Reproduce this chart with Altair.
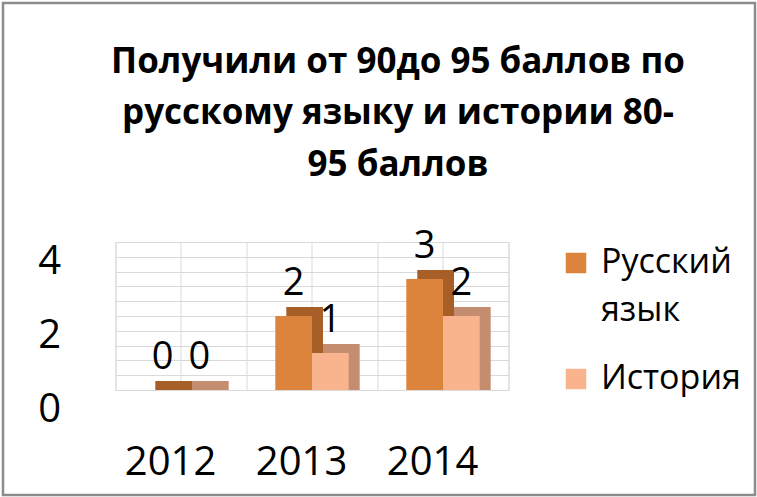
import altair as alt
import pandas as pd

# ---- data ----
years = ["2012", "2013", "2014"]
series = ["Русский язык", "История"]
russian = [0, 2, 3]
history = [0, 1, 2]
y_ticks = [0, 0.4, 0.8, 1.2, 1.6, 2, 2.4, 2.8, 3.2, 3.6, 4]
title_lines = ["Получили от 90до 95 баллов по", "русскому языку и истории 80-", "95 баллов"]

rows = []
for i, yr in enumerate(years):
    rows.append({"year": yr, "series": series[0], "value": russian[i]})
    rows.append({"year": yr, "series": series[1], "value": history[i]})
df = pd.DataFrame(rows)
years_df = pd.DataFrame({"year": years})

# ---- layout constants ----
W, H = 393, 148
PAD_L, PAD_T = 115.5, 242
DX, DY = 11, 9          # pseudo-3D depth offset
PX_PER_UNIT = H / 4.0
FONT = "Open Sans"
front_colors = ["#DD843C", "#F9B48E"]
side_colors = ["#A85E27", "#C58D70"]
grid_color = "#D9D9D9"

xoff_scale = dict(domain=series, paddingInner=0, paddingOuter=0.785)

# vertical center grid lines
rules = alt.Chart(years_df).mark_rule(color=grid_color, strokeWidth=1).encode(
    x=alt.X("year:N", sort=years, axis=None)
)

# back (depth) faces of bars
depth = alt.Chart(df).mark_bar().encode(
    x=alt.X("year:N", sort=years, axis=None,
            scale=alt.Scale(paddingInner=0, paddingOuter=0, range=[DX, W + DX])),
    xOffset=alt.XOffset("series:N", sort=series, scale=alt.Scale(**xoff_scale)),
    y=alt.Y("value:Q", axis=None, scale=alt.Scale(domain=[0, 4], range=[H - DY, -DY])),
    y2=alt.datum(-DY / PX_PER_UNIT),
    color=alt.Color("series:N", sort=series, legend=None,
                    scale=alt.Scale(domain=series, range=side_colors)),
)

x_front = alt.X(
    "year:N", sort=years,
    scale=alt.Scale(paddingInner=0, paddingOuter=0),
    axis=alt.Axis(title=None, labelAngle=0, labelFont=FONT, labelFontSize=40,
                  labelColor="black", tickBand="extent", grid=True, gridColor=grid_color,
                  domain=False, ticks=False, tickSize=0, labelPadding=52, labelOffset=-11),
)
xoff_front = alt.XOffset("series:N", sort=series, scale=alt.Scale(**xoff_scale))
y_front = alt.Y(
    "value:Q",
    scale=alt.Scale(domain=[0, 4]),
    axis=alt.Axis(title=None, values=y_ticks, tickCount=len(y_ticks), labelOverlap=False,
                  labelExpr="datum.value % 2 == 0 ? '' + datum.value : ''",
                  labelFont=FONT, labelFontSize=40, labelColor="black", labelBaseline="middle",
                  labelOffset=19, labelPadding=55, grid=True, gridColor=grid_color,
                  domain=False, ticks=False, tickSize=0),
)

bars = alt.Chart(df).mark_bar().encode(
    x=x_front,
    xOffset=xoff_front,
    y=y_front,
    color=alt.Color(
        "series:N", sort=series,
        scale=alt.Scale(domain=series, range=front_colors),
        legend=alt.Legend(
            title=None, orient="none", legendX=443.5, legendY=4,
            symbolType="square", symbolSize=420, symbolStrokeWidth=0,
            labelFont=FONT, labelFontSize=34, labelColor="black", labelOffset=8,
            labelBaseline="middle", labelLimit=300, rowPadding=34,
            labelExpr="datum.label == 'Русский язык' ? ['Русский', 'язык'] : datum.label",
        ),
    ),
)

labels = alt.Chart(df).mark_text(
    dy=-21, baseline="alphabetic", fontSize=38, font=FONT, color="black"
).encode(
    x=alt.X("year:N", sort=years),
    xOffset=alt.XOffset("series:N", sort=series),
    y=alt.Y("value:Q"),
    text=alt.Text("value:Q"),
)

front = alt.layer(bars, labels)

frame = alt.Chart(pd.DataFrame({"a": [0]})).mark_rect(
    fillOpacity=0, stroke="#8C8C8C", strokeWidth=2.5
).encode(
    x=alt.value(3 - PAD_L), x2=alt.value(755 - PAD_L),
    y=alt.value(3 - PAD_T), y2=alt.value(495 - PAD_T),
)

chart = alt.layer(rules, depth, front, frame).resolve_scale(
    x="independent", y="independent", xOffset="independent", color="independent"
).properties(
    width=W, height=H,
    autosize=alt.AutoSizeParams(type="none"),
    padding={"left": PAD_L, "top": PAD_T, "right": 757 - PAD_L - W, "bottom": 497 - PAD_T - H},
    title=alt.TitleParams(
        text=title_lines, font=FONT, fontSize=35, fontWeight="bold", color="black",
        lineHeight=51.5, anchor="middle", dx=86, offset=-181,
    ),
).configure_view(
    stroke="#BFBFBF", strokeWidth=1
).configure(
    background="white", style={"guide-label": {"lineHeight": 48}}
)

chart.save("out.html", embed_options={"renderer": "svg", "actions": False})
